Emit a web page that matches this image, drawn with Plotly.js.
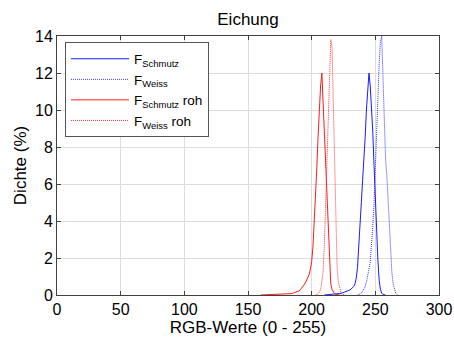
<!DOCTYPE html>
<html>
<head>
<meta charset="utf-8">
<script src="https://cdn.plot.ly/plotly-3.0.1.min.js"></script>
<style>html,body{margin:0;padding:0;background:#fff;}#chart{width:454px;height:338px;}</style>
</head>
<body>
<div id="chart"></div>
<script>
// Series names
const names = ['F<sub>Schmutz</sub>', 'F<sub>Weiss</sub>', 'F<sub>Schmutz</sub> roh', 'F<sub>Weiss</sub> roh'];

// F_Schmutz (blue solid)
const schmutzX = [210,212,215,218,220,222,224,226,228,230,231,232,233,234,235,236,237,238,239,240,241,242,243,244,245,246,247,248,249,250,251,252,253,254,255,256,258];
const schmutzY = [0,0.01,0.02,0.04,0.06,0.08,0.11,0.15,0.2,0.27,0.32,0.38,0.46,0.6,0.9,1.5,2.5,3.7,5.0,6.2,7.2,8.5,10.0,11.3,12.0,11.3,10.3,8.8,7.0,5.0,3.3,1.9,0.8,0.3,0.1,0.03,0];

// F_Weiss (blue dotted)
const weissX = [236,238,239,240,241,242,243,244,245,246,247,248,249,250,251,252,253,254,255,256,257,258,259,260,261,262,263,264,265,266,267,268];
const weissY = [0,0.05,0.1,0.2,0.3,0.45,0.7,1.0,1.4,1.8,2.6,3.7,5.0,6.6,8.5,10.6,12.5,13.7,14.0,12.0,9.2,7.4,6.5,5.2,3.7,2.0,1.2,0.6,0.3,0.1,0.03,0];

// F_Schmutz roh (red solid)
const schmutzRohX = [160,165,170,175,180,183,185,187,189,190,191,192,193,194,195,196,197,198,199,200,201,202,203,204,205,206,207,208,209,210,211,212,213,214,215,216,217,218,219,220,222];
const schmutzRohY = [0,0.01,0.02,0.03,0.05,0.07,0.09,0.13,0.18,0.22,0.28,0.35,0.44,0.54,0.65,0.78,0.92,1.1,1.4,1.8,2.6,3.8,5.3,6.8,8.5,10.0,11.3,12.0,10.3,8.5,7.0,5.4,3.5,1.6,0.6,0.3,0.15,0.07,0.03,0.01,0];

// F_Weiss roh (red dotted)
const weissRohX = [203,205,206,207,208,209,210,211,212,213,214,215,216,217,218,219,220,221,222,223,224,226];
const weissRohY = [0,0.05,0.15,0.3,0.7,1.3,2.8,5.0,7.3,9.8,12.3,13.8,13.4,10.4,7.4,3.9,1.4,0.7,0.35,0.15,0.05,0];

const xTicks = [0,50,100,150,200,250,300];
const yTicks = [0,2,4,6,8,10,12,14];

const traces = [
  {x: schmutzX, y: schmutzY, name: names[0], mode: 'lines', line: {color: '#1a1aff', width: 1}},
  {x: weissX, y: weissY, name: names[1], mode: 'lines', line: {color: '#3333ff', width: 1, dash: '1px,1px'}},
  {x: schmutzRohX, y: schmutzRohY, name: names[2], mode: 'lines', line: {color: '#ff1a1a', width: 1}},
  {x: weissRohX, y: weissRohY, name: names[3], mode: 'lines', line: {color: '#ff3333', width: 1, dash: '1px,1px'}}
];

const axisCommon = {
  showline: true, linecolor: '#404040', linewidth: 1, mirror: 'ticks',
  ticks: 'inside', ticklen: 4, tickcolor: '#404040', tickwidth: 1,
  showgrid: true, gridcolor: '#dedede', gridwidth: 1,
  zeroline: false, tickfont: {size: 16, color: '#000'}
};

const layout = {
  width: 454, height: 338,
  margin: {l: 57, r: 15, t: 36, b: 43},
  paper_bgcolor: '#fff', plot_bgcolor: '#fff',
  font: {family: 'Liberation Sans, Arial, sans-serif', color: '#000'},
  title: {text: 'Eichung', font: {size: 17, color: '#000'}, x: 0.5, xref: 'paper', xanchor: 'center', y: 0.945, yref: 'container', yanchor: 'middle'},
  xaxis: Object.assign({}, axisCommon, {range: [0, 300], tickvals: xTicks, ticktext: xTicks.map(String),
    title: {text: 'RGB-Werte (0 - 255)', font: {size: 17}, standoff: 2}}),
  yaxis: Object.assign({}, axisCommon, {range: [0, 14], tickvals: yTicks, ticktext: yTicks.map(String),
    title: {text: 'Dichte (%)', font: {size: 17}, standoff: 4}}),
  showlegend: true,
  legend: {x: 0.021, y: 0.975, xanchor: 'left', yanchor: 'top', bgcolor: '#fff', bordercolor: '#555', borderwidth: 1,
    font: {size: 13.5, color: '#000'}, tracegroupgap: 0, itemwidth: 58},
};

Plotly.newPlot('chart', traces, layout, {staticPlot: true, displayModeBar: false});
</script>
</body>
</html>
